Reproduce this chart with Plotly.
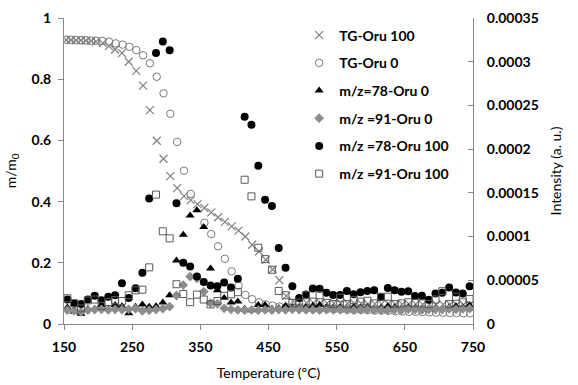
import plotly.graph_objects as go

# ---------------- data ----------------
# MS series temperatures (ºC)
T_ms = [155, 165, 175, 185, 195, 205, 215, 225, 235, 245,
        255, 265, 275, 285, 295, 305, 315, 325, 335, 345,
        355, 365, 375, 385, 395, 405, 415, 425, 435, 445,
        455, 465, 475, 485, 495, 505, 515, 525, 535, 545,
        555, 565, 575, 585, 595, 605, 615, 625, 635, 645,
        655, 665, 675, 685, 695, 705, 715, 725, 735, 745]

# intensities (a. u.)
mz78_oru0 = [1.89e-5, 1.40e-5, 1.16e-5, 1.75e-5, 1.75e-5, 2.17e-5, 1.75e-5, 2.17e-5, 2.03e-5, 1.23e-5,
             1.96e-5, 2.24e-5, 1.96e-5, 2.03e-5, 2.45e-5, 3.29e-5, 7.25e-5, 10.2e-5, 12.4e-5, 13.0e-5,
             11.1e-5, 6.34e-5, 3.85e-5, 2.98e-5, 2.45e-5, 2.56e-5, 1.75e-5, 1.58e-5, 2.17e-5, 2.17e-5,
             1.75e-5, 1.82e-5, 2.10e-5, 1.93e-5, 1.82e-5, 1.93e-5, 2.10e-5, 2.17e-5, 1.93e-5, 1.82e-5,
             1.93e-5, 1.75e-5, 1.93e-5, 1.86e-5, 1.93e-5, 1.75e-5, 1.82e-5, 2.03e-5, 1.93e-5, 1.75e-5,
             1.93e-5, 1.82e-5, 1.75e-5, 1.68e-5, 1.82e-5, 1.75e-5, 1.93e-5, 2.03e-5, 1.93e-5, 2.17e-5]

mz91_oru0 = [1.58e-5, 1.51e-5, 1.40e-5, 1.58e-5, 1.65e-5, 1.68e-5, 1.61e-5, 1.68e-5, 1.65e-5, 1.68e-5,
             1.75e-5, 1.51e-5, 1.58e-5, 1.65e-5, 1.75e-5, 2.00e-5, 3.26e-5, 4.45e-5, 5.43e-5, 5.22e-5,
             3.71e-5, 2.38e-5, 2.31e-5, 1.79e-5, 1.68e-5, 1.61e-5, 1.58e-5, 1.61e-5, 1.58e-5, 1.61e-5,
             1.58e-5, 1.65e-5, 1.61e-5, 1.68e-5, 1.65e-5, 1.61e-5, 1.61e-5, 1.58e-5, 1.65e-5, 1.61e-5,
             1.65e-5, 1.61e-5, 1.58e-5, 1.61e-5, 1.65e-5, 1.61e-5, 1.58e-5, 1.61e-5, 1.65e-5, 1.61e-5,
             1.68e-5, 1.65e-5, 1.61e-5, 1.65e-5, 1.68e-5, 1.65e-5, 1.72e-5, 1.68e-5, 1.72e-5, 1.75e-5]

mz78_oru100 = [2.80e-5, 2.35e-5, 2.28e-5, 2.80e-5, 3.22e-5, 2.73e-5, 3.12e-5, 3.29e-5, 4.66e-5, 2.98e-5,
               4.10e-5, 5.85e-5, 14.35e-5, 31.0e-5, 32.3e-5, 31.3e-5, 13.8e-5, 7.00e-5, 6.58e-5, 5.43e-5,
               4.80e-5, 4.41e-5, 4.31e-5, 4.76e-5, 4.17e-5, 5.18e-5, 23.7e-5, 22.8e-5, 18.1e-5, 14.2e-5,
               13.5e-5, 8.68e-5, 6.44e-5, 4.31e-5, 2.98e-5, 3.36e-5, 4.06e-5, 4.03e-5, 3.57e-5, 3.33e-5,
               3.33e-5, 3.78e-5, 3.40e-5, 3.64e-5, 3.78e-5, 3.85e-5, 3.08e-5, 4.13e-5, 3.85e-5, 3.68e-5,
               3.75e-5, 3.19e-5, 3.22e-5, 2.77e-5, 3.50e-5, 3.57e-5, 4.17e-5, 3.61e-5, 3.50e-5, 4.31e-5]

mz91_oru100 = [2.94e-5, 2.38e-5, 1.79e-5, 2.70e-5, 2.80e-5, 2.07e-5, 2.52e-5, 2.73e-5, 2.63e-5, 3.29e-5,
               3.85e-5, 3.92e-5, 6.48e-5, 14.8e-5, 10.6e-5, 9.80e-5, 4.55e-5, 3.43e-5, 2.49e-5, 3.36e-5,
               2.80e-5, 2.24e-5, 2.63e-5, 3.22e-5, 3.40e-5, 3.64e-5, 16.5e-5, 14.6e-5, 8.72e-5, 7.42e-5,
               6.20e-5, 3.78e-5, 3.29e-5, 2.42e-5, 2.45e-5, 3.29e-5, 2.56e-5, 3.29e-5, 2.42e-5, 2.28e-5,
               3.01e-5, 2.28e-5, 2.73e-5, 2.56e-5, 2.66e-5, 2.35e-5, 3.12e-5, 3.12e-5, 2.28e-5, 2.35e-5,
               2.49e-5, 2.42e-5, 2.35e-5, 2.28e-5, 2.80e-5, 3.75e-5, 2.28e-5, 3.12e-5, 2.49e-5, 2.87e-5]

# TG curves (m/m0)
T_tg0 = [153, 160, 168, 175, 182, 190, 197, 206, 216, 226,
         236, 246, 256, 266, 276, 286, 296, 306, 316, 326,
         336, 356, 366, 376, 386, 396, 406, 416, 426, 436,
         446, 456, 466, 476, 486, 496, 506, 516, 526, 536,
         546, 556, 566, 576, 586, 596, 606, 616, 626, 636,
         646, 656, 666, 676, 686, 696, 706, 716, 726, 736, 746]
tg_oru0 = [0.929, 0.929, 0.928, 0.928, 0.927, 0.926, 0.926, 0.925, 0.923, 0.917,
           0.913, 0.906, 0.895, 0.878, 0.852, 0.808, 0.754, 0.687, 0.595, 0.501,
           0.425, 0.331, 0.294, 0.254, 0.213, 0.172, 0.126, 0.095, 0.081, 0.071,
           0.064, 0.060, 0.057, 0.055, 0.053, 0.052, 0.051, 0.050, 0.050, 0.049,
           0.048, 0.048, 0.047, 0.046, 0.046, 0.045, 0.044, 0.044, 0.043, 0.042,
           0.041, 0.040, 0.040, 0.039, 0.038, 0.037, 0.037, 0.036, 0.036, 0.035, 0.035]

T_tg100 = [153, 160, 168, 175, 182, 190, 197, 207, 216, 225,
           235, 245, 256, 266, 276, 286, 296, 306, 316, 326,
           336, 346, 356, 366, 376, 386, 396, 406, 416, 426,
           436, 446, 456, 466, 476, 486, 496, 506, 516, 526,
           536, 546, 556, 566, 576, 586, 596, 606, 616, 626,
           636, 646, 656, 666, 676, 686, 696, 706, 716, 726, 736, 746]
tg_oru100 = [0.928, 0.928, 0.927, 0.927, 0.926, 0.925, 0.923, 0.918, 0.908, 0.897,
             0.885, 0.857, 0.827, 0.779, 0.699, 0.599, 0.540, 0.483, 0.444, 0.418,
             0.405, 0.392, 0.379, 0.365, 0.349, 0.334, 0.319, 0.305, 0.286, 0.259,
             0.237, 0.210, 0.178, 0.143, 0.092, 0.074, 0.070, 0.070, 0.069, 0.069,
             0.068, 0.068, 0.068, 0.067, 0.067, 0.067, 0.066, 0.066, 0.066, 0.066,
             0.065, 0.065, 0.065, 0.065, 0.064, 0.064, 0.064, 0.064, 0.064, 0.063, 0.063, 0.063]

x_ticks = [150, 250, 350, 450, 550, 650, 750]
y_ticks = [0, 0.2, 0.4, 0.6, 0.8, 1]
y_ticklabels = ["0", "0.2", "0.4", "0.6", "0.8", "1"]
y2_ticks = [0, 0.00005, 0.0001, 0.00015, 0.0002, 0.00025, 0.0003, 0.00035]
y2_ticklabels = ["0", "0.00005", "0.0001", "0.00015", "0.0002", "0.00025", "0.0003", "0.00035"]

# ---------------- figure ----------------
FONT = "Lato, Carlito, Calibri, sans-serif"
fig = go.Figure()

fig.add_trace(go.Scatter(x=T_tg100, y=tg_oru100, mode="markers", name="TG-Oru 100",
                         legendgroup="a",
                         marker=dict(symbol="x-thin-open", size=8, color="#808080",
                                     line=dict(color="#808080", width=1.2))))
fig.add_trace(go.Scatter(x=T_tg0, y=tg_oru0, mode="markers", name="TG-Oru 0",
                         legendgroup="b",
                         marker=dict(symbol="circle-open", size=7.5, color="#7a7a7a",
                                     line=dict(color="#7a7a7a", width=1))))
fig.add_trace(go.Scatter(x=T_ms, y=mz78_oru0, mode="markers", name="m/z=78-Oru 0",
                         legendgroup="c", yaxis="y2",
                         marker=dict(symbol="triangle-up", size=8, color="#000000")))
fig.add_trace(go.Scatter(x=T_ms, y=mz91_oru0, mode="markers", name="m/z =91-Oru 0",
                         legendgroup="d", yaxis="y2",
                         marker=dict(symbol="diamond", size=7.5, color="#8c8c8c")))
fig.add_trace(go.Scatter(x=T_ms, y=mz78_oru100, mode="markers", name="m/z =78-Oru 100",
                         legendgroup="e", yaxis="y2",
                         marker=dict(symbol="circle", size=8, color="#000000")))
fig.add_trace(go.Scatter(x=T_ms, y=mz91_oru100, mode="markers", name="m/z =91-Oru 100",
                         legendgroup="f", yaxis="y2",
                         marker=dict(symbol="square-open", size=7, color="#595959",
                                     line=dict(color="#595959", width=1))))

axis_line = "#868686"
tick_font = dict(family=FONT, size=14, color="#000000", weight=700)
title_font = dict(family=FONT, size=14, color="#000000")

fig.update_layout(
    width=578, height=385,
    margin=dict(l=64, r=105, t=18, b=61, autoexpand=False),
    paper_bgcolor="white", plot_bgcolor="white",
    font=dict(family=FONT, size=14, color="#000000"),
    showlegend=True,
    legend=dict(x=0.575, y=0.995, xanchor="left", yanchor="top",
                bgcolor="rgba(0,0,0,0)", borderwidth=0,
                font=dict(family=FONT, size=14, color="#000000", weight=700),
                tracegroupgap=6.5, traceorder="grouped", itemwidth=30),
    xaxis=dict(range=[150, 750], tickvals=x_ticks, ticktext=[str(v) for v in x_ticks],
               showgrid=False, zeroline=False, showline=True, linecolor=axis_line,
               linewidth=1, ticks="outside", ticklen=5, tickcolor=axis_line,
               tickfont=tick_font, ticklabelstandoff=5, automargin=False,
               title=dict(text="Temperature (ºC)", font=title_font, standoff=14)),
    yaxis=dict(range=[0, 1], tickvals=y_ticks, ticktext=y_ticklabels,
               showgrid=False, zeroline=False, showline=True, linecolor=axis_line,
               linewidth=1, ticks="outside", ticklen=5, tickcolor=axis_line,
               tickfont=tick_font, ticklabelstandoff=4, automargin=False,
               title=dict(text="m/m<sub>0</sub>", font=title_font, standoff=11)),
    yaxis2=dict(range=[0, 0.00035], tickvals=y2_ticks, ticktext=y2_ticklabels,
                overlaying="y", side="right",
                showgrid=False, zeroline=False, showline=True, linecolor=axis_line,
                linewidth=1, ticks="inside", ticklen=5, tickcolor=axis_line,
                tickfont=tick_font, ticklabelstandoff=10, automargin=False,
                title=dict(text="Intensity (a. u.)", font=title_font, standoff=13)),
)

fig.write_html("out.html", config={"displayModeBar": False},
               post_script="document.body.style.margin='0';document.body.style.overflow='hidden';")
